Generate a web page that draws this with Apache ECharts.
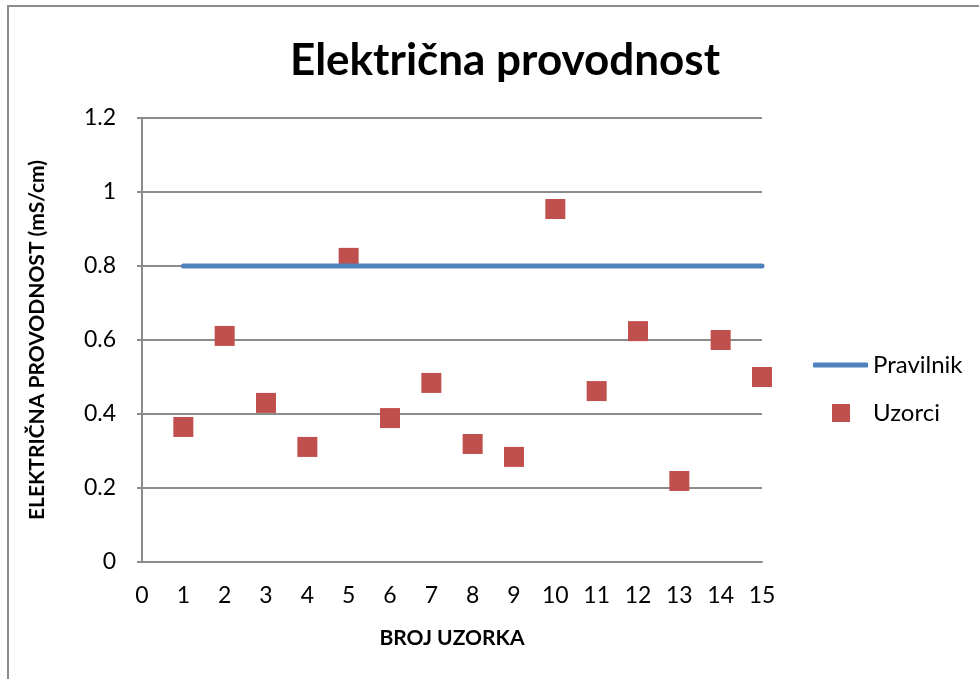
<!DOCTYPE html>
<html><head><meta charset="utf-8">
<script src="https://cdn.jsdelivr.net/npm/echarts@6/dist/echarts.min.js"></script>
<style>html,body{margin:0;padding:0;background:#fff}#c{width:979px;height:679px}</style>
</head><body><div id="c"></div>
<script>
const titleText = 'Električna provodnost';
const xName = 'BROJ UZORKA';
const yName = 'ELEKTRIČNA PROVODNOST (mS/cm)';
const sampleNo = [1,2,3,4,5,6,7,8,9,10,11,12,13,14,15];
const sampleVals = [0.365,0.611,0.43,0.311,0.822,0.389,0.484,0.319,0.284,0.954,0.462,0.624,0.219,0.6,0.5];
const ruleX = [1,15];
const ruleY = [0.8,0.8];
const seriesNames = ['Pravilnik','Uzorci'];
const F = 'Lato, "Open Sans", sans-serif';
const chart = echarts.init(document.getElementById('c'));
chart.setOption({
  animation:false,
  backgroundColor:'#fff',
  graphic:[{type:'rect',shape:{x:8,y:6,width:1000,height:700},style:{fill:'none',stroke:'#8c8c8c',lineWidth:2},silent:true}],
  title:{text:titleText,left:500,top:34,textAlign:'center',textStyle:{fontFamily:F,fontSize:44,fontWeight:'bold',color:'#000'}},
  grid:{left:142,top:118,width:620,height:444},
  legend:[
    {data:[{name:seriesNames[0],icon:'roundRect',itemStyle:{color:'#4F81BD'}}],left:808,top:348,itemWidth:55,itemHeight:5,itemGap:5,
      textStyle:{fontFamily:F,fontSize:24,color:'#000'}},
    {data:[{name:seriesNames[1],icon:'rect'}],left:827,top:396,itemWidth:18,itemHeight:18,itemGap:5,
      textStyle:{fontFamily:F,fontSize:24,color:'#000',padding:[0,0,0,18]}}
  ],
  xAxis:{type:'value',min:0,max:15,interval:1,name:xName,nameLocation:'middle',nameGap:66,
    nameTextStyle:{fontFamily:F,fontSize:21,fontWeight:'bold',color:'#000'},
    axisLine:{lineStyle:{color:'#8c8c8c',width:2}},axisTick:{show:false},
    axisLabel:{fontFamily:F,fontSize:23,color:'#000',margin:22},splitLine:{show:false}},
  yAxis:{type:'value',min:0,max:1.2,interval:0.2,name:yName,nameLocation:'middle',nameGap:94,nameRotate:90,
    nameTextStyle:{fontFamily:F,fontSize:21,fontWeight:'bold',color:'#000'},
    axisLine:{show:true,lineStyle:{color:'#8c8c8c',width:2}},axisTick:{show:true,length:5,lineStyle:{color:'#8c8c8c',width:2}},
    axisLabel:{fontFamily:F,fontSize:23,color:'#000',margin:26},
    splitLine:{lineStyle:{color:'#8c8c8c',width:2}}},
  series:[
    {name:seriesNames[0],type:'line',data:ruleX.map((x,i)=>[x,ruleY[i]]),symbol:'none',
      lineStyle:{color:'#4F81BD',width:5,cap:'round'},itemStyle:{color:'#4F81BD'}},
    {name:seriesNames[1],type:'scatter',data:sampleNo.map((x,i)=>[x,sampleVals[i]]),symbol:'rect',symbolSize:20,
      itemStyle:{color:'#C0504D',opacity:1}}
  ]
});
</script></body></html>
